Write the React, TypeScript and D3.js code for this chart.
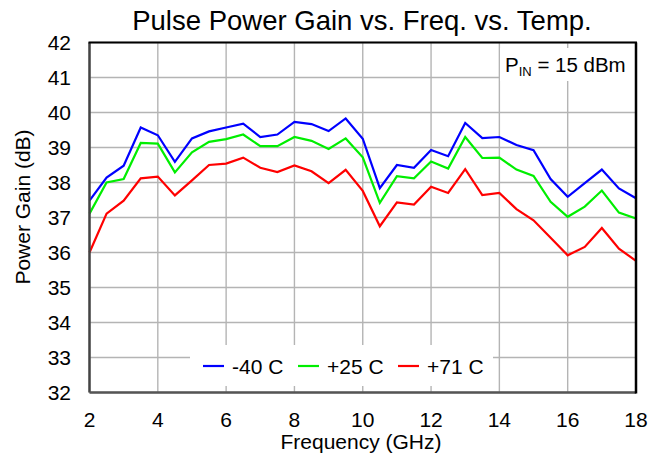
import React from "react";
import * as d3 from "d3";

const freqs = [2, 2.5, 3, 3.5, 4, 4.5, 5, 5.5, 6, 6.5, 7, 7.5, 8, 8.5, 9, 9.5, 10, 10.5, 11, 11.5, 12, 12.5, 13, 13.5, 14, 14.5, 15, 15.5, 16, 16.5, 17, 17.5, 18];
const gainM40 = [37.48, 38.14, 38.48, 39.57, 39.35, 38.59, 39.26, 39.46, 39.57, 39.68, 39.30, 39.37, 39.73, 39.67, 39.47, 39.83, 39.25, 37.84, 38.50, 38.42, 38.93, 38.75, 39.70, 39.27, 39.30, 39.07, 38.92, 38.10, 37.59, 37.98, 38.37, 37.83, 37.55];
const gainP25 = [37.11, 38.00, 38.10, 39.13, 39.11, 38.29, 38.86, 39.16, 39.24, 39.37, 39.04, 39.04, 39.30, 39.19, 38.96, 39.26, 38.72, 37.42, 38.18, 38.12, 38.60, 38.40, 39.30, 38.70, 38.71, 38.37, 38.19, 37.45, 37.02, 37.31, 37.77, 37.14, 36.97];
const gainP71 = [36.00, 37.11, 37.48, 38.12, 38.17, 37.63, 38.06, 38.50, 38.54, 38.71, 38.42, 38.30, 38.49, 38.32, 37.98, 38.36, 37.76, 36.75, 37.43, 37.37, 37.88, 37.70, 38.38, 37.64, 37.70, 37.24, 36.92, 36.42, 35.92, 36.16, 36.70, 36.11, 35.76];
const seriesNames = ["-40 C", "+25 C", "+71 C"];
const seriesColors = ["#0000ff", "#00ee00", "#ff0000"];
const xTicks = [2, 4, 6, 8, 10, 12, 14, 16, 18];
const yTicks = [32, 33, 34, 35, 36, 37, 38, 39, 40, 41, 42];

const W = 651, H = 457;
const L = 89.5, R = 636, T = 42.5, B = 392.5;
const FONT = "'Liberation Sans', Arial, Helvetica, sans-serif";

export default function App() {
  const x = d3.scaleLinear().domain([2, 18]).range([L, R]);
  const y = d3.scaleLinear().domain([32, 42]).range([B, T]);
  const allSeries = [gainM40, gainP25, gainP71];
  const line = d3.line<number>().x((_, i) => x(freqs[i])).y((d) => y(d));
  const legendX = [203, 298, 398];

  return (
    <svg width={W} height={H} style={{ position: "absolute", left: 0, top: 0, background: "#fff" }} fontFamily={FONT}>
      <rect x={0} y={0} width={W} height={H} fill="#fff" />
      <text x={362} y={30} fontSize={27.5} textAnchor="middle" fill="#000">Pulse Power Gain vs. Freq. vs. Temp.</text>
      {xTicks.map((t) => (
        <line key={"gx" + t} x1={x(t)} x2={x(t)} y1={T} y2={B} stroke="#b4b4b4" strokeWidth={1.4} />
      ))}
      {yTicks.map((t) => (
        <line key={"gy" + t} x1={L} x2={R} y1={y(t)} y2={y(t)} stroke="#b4b4b4" strokeWidth={1.4} />
      ))}
      {/* P_IN label box */}
      <rect x={500} y={48} width={R - 500} height={33} fill="#fff" />
      <text x={505} y={72} fontSize={20.5} fill="#000">
        P<tspan fontSize={13} dy={4}>IN</tspan><tspan dy={-4}> = 15 dBm</tspan>
      </text>
      {allSeries.map((s, i) => (
        <path key={"s" + i} d={line(s) || ""} fill="none" stroke={seriesColors[i]} strokeWidth={2.2} strokeLinejoin="miter" />
      ))}
      {/* legend */}
      <rect x={190} y={345} width={303} height={41} fill="#fff" />
      {seriesNames.map((n, i) => (
        <g key={"lg" + i}>
          <line x1={legendX[i]} x2={legendX[i] + 21} y1={366} y2={366} stroke={seriesColors[i]} strokeWidth={2.2} />
          <text x={legendX[i] + 29} y={374} fontSize={21} fill="#000">{n}</text>
        </g>
      ))}
      {/* frame */}
      <line x1={L} x2={L} y1={T} y2={B} stroke="#444" strokeWidth={2.5} />
      <line x1={L} x2={R} y1={B} y2={B} stroke="#555" strokeWidth={2.5} />
      <line x1={L - 1} x2={R + 1} y1={T} y2={T} stroke="#000" strokeWidth={2} />
      <line x1={R} x2={R} y1={T} y2={B + 1} stroke="#000" strokeWidth={2.5} />
      {xTicks.map((t) => (
        <text key={"tx" + t} x={x(t)} y={427} fontSize={21} textAnchor="middle" fill="#000">{t}</text>
      ))}
      {yTicks.map((t) => (
        <text key={"ty" + t} x={71} y={y(t) + 7.5} fontSize={21} textAnchor="end" fill="#000">{t}</text>
      ))}
      <text x={361} y={449} fontSize={21} textAnchor="middle" fill="#000">Frequency (GHz)</text>
      <text transform={`translate(30,207) rotate(-90)`} fontSize={21} textAnchor="middle" fill="#000">Power Gain (dB)</text>
    </svg>
  );
}
